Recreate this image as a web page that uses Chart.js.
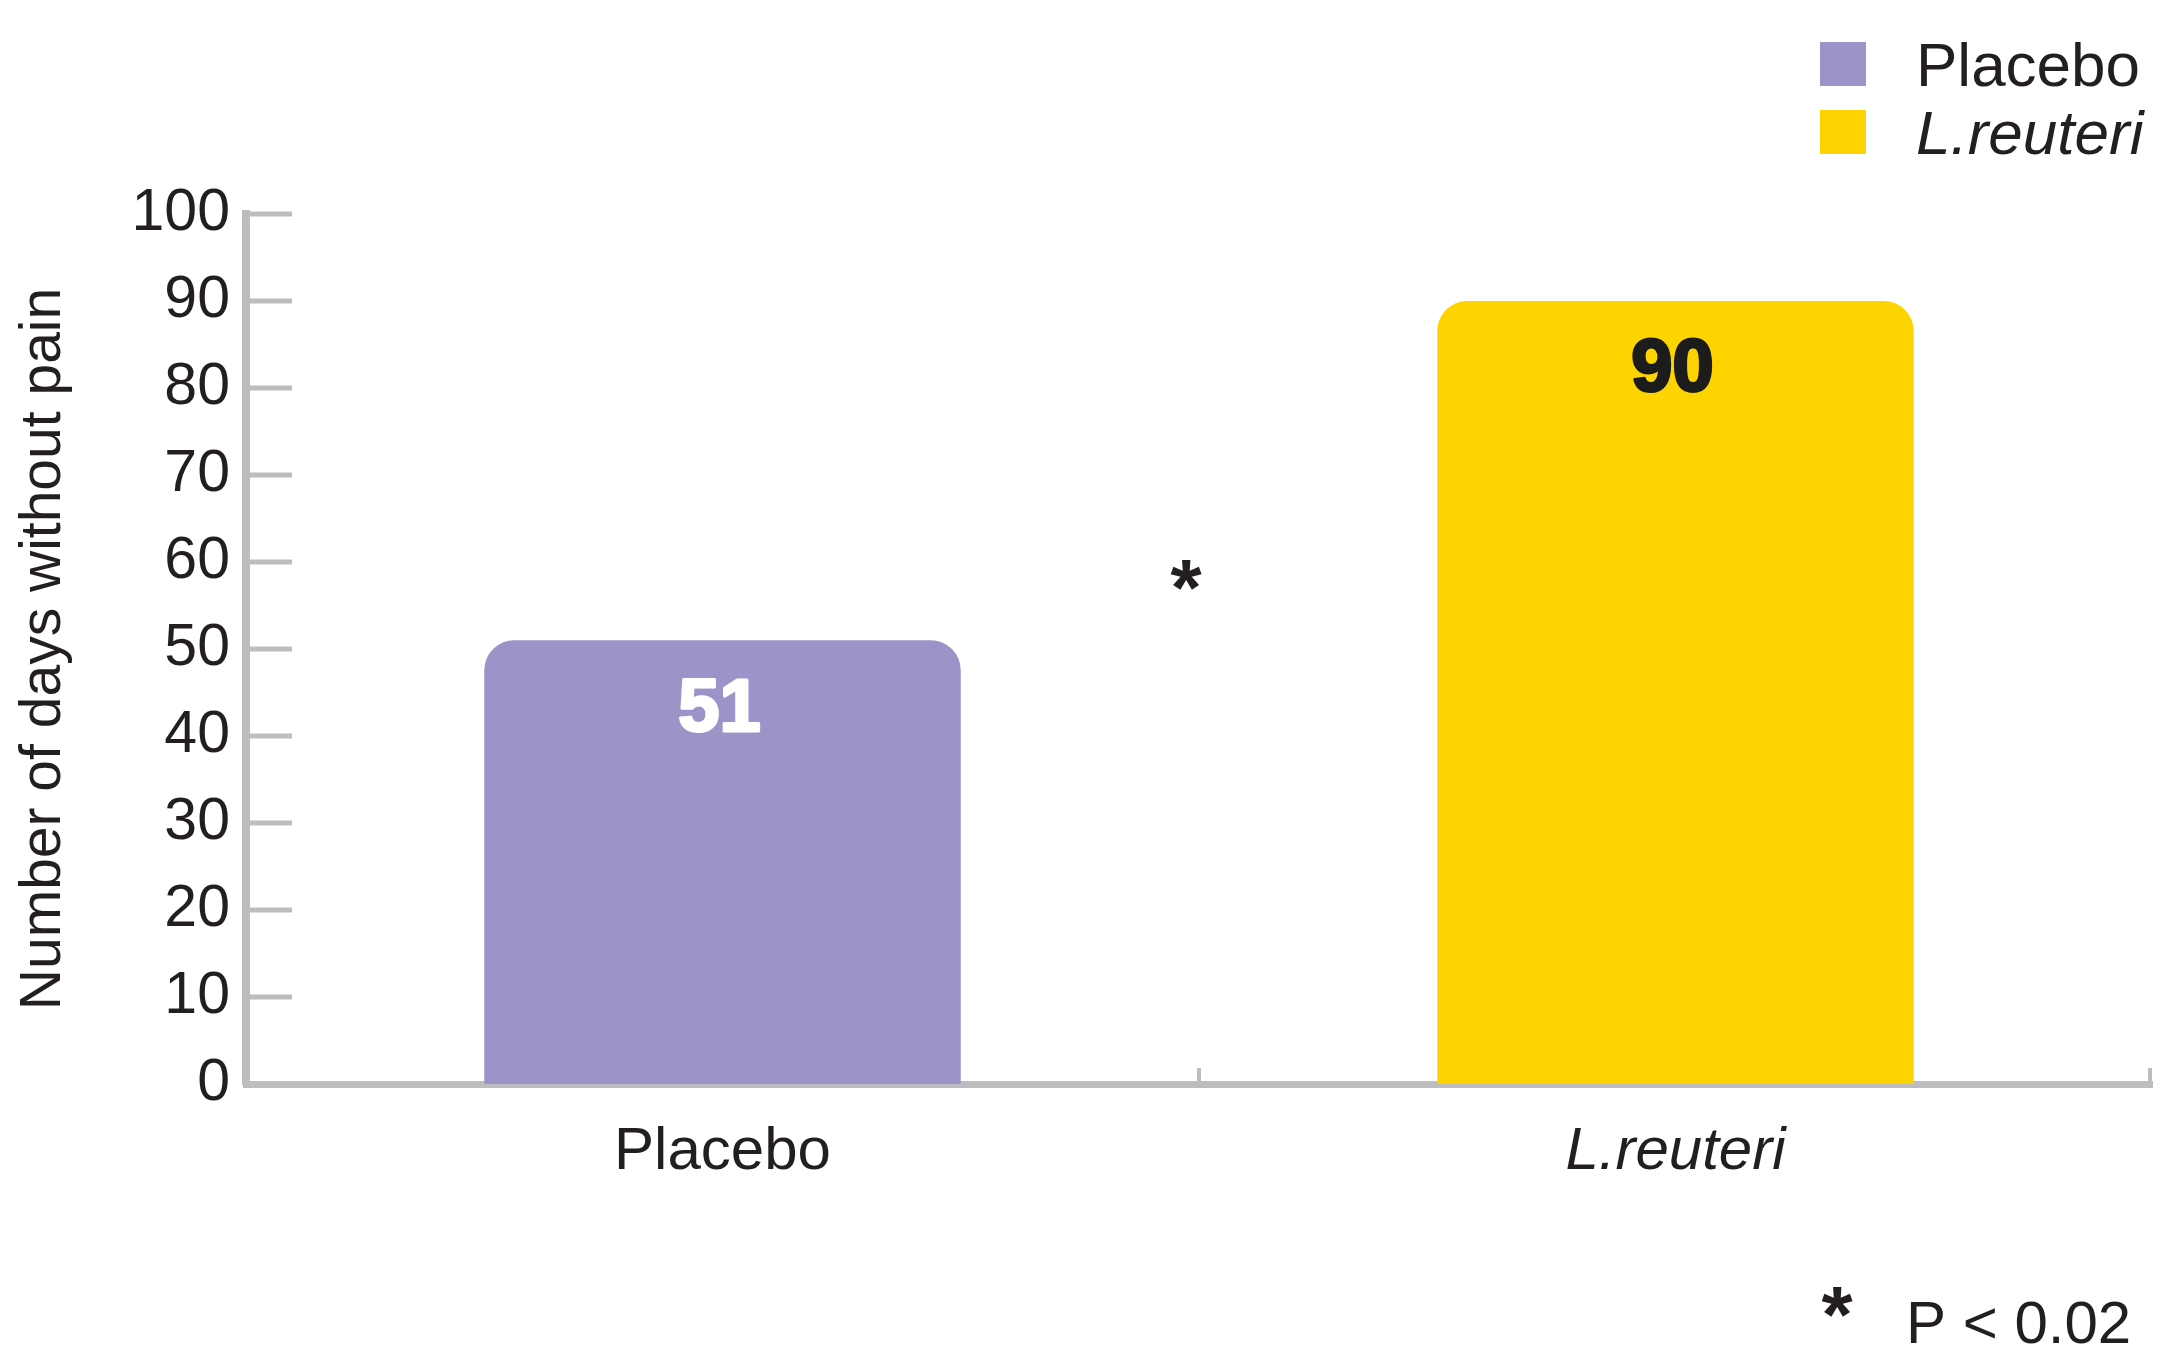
<!DOCTYPE html>
<html>

<head>
    <meta charset="UTF-8">
    <title>Number of days without pain</title>
    <script src="https://cdn.jsdelivr.net/npm/chart.js@4.4.1/dist/chart.umd.min.js"></script>
    <style>
        html, body { margin: 0; padding: 0; background: #fff; }
        #wrap { position: relative; width: 2162px; height: 1353px; }
        #legend {
            position: absolute; left: 1820px; top: 30px;
            font-family: "Liberation Sans", Arial, sans-serif; font-size: 62px; color: #231f20;
        }
        .item { display: flex; align-items: center; height: 68px; }
        .box { width: 46px; height: 44px; margin-right: 50px; }
    </style>
</head>

<body>
    <div id="wrap">
        <canvas id="bar-chart" width="2162" height="1353"></canvas>
        <div id="legend"></div>
    </div>
</body>

<script>
    var categories = ['Placebo', 'L.reuteri'];
    var italicLabels = [false, true];
    var daysWithoutPain = [51, 90];
    var barColors = ['#9b94c8', '#fdd400'];
    var valueColors = ['#ffffff', '#1c1c1c'];
    var axisTitle = 'Number of days without pain';
    var starLevel = 59;          // height of the significance mark, in days
    var footnote = 'P < 0.02';

    var FONT = '"Liberation Sans", Arial, sans-serif';
    var TEXT = '#231f20';
    var AXIS = '#bdbdc0';

    // legend (HTML so that L.reuteri can be italic)
    var legend = document.getElementById('legend');
    categories.forEach(function (c, i) {
        var row = document.createElement('div');
        row.className = 'item';
        row.innerHTML = '<div class="box" style="background:' + barColors[i] + '"></div>' +
            '<span style="font-style:' + (italicLabels[i] ? 'italic' : 'normal') + '">' + c + '</span>';
        legend.appendChild(row);
    });

    var extras = {
        id: 'extras',
        afterDraw: function (chart) {
            var ctx = chart.ctx;
            var x = chart.scales.x, y = chart.scales.y;
            ctx.save();

            // inward ticks on the y axis
            ctx.strokeStyle = AXIS;
            ctx.lineWidth = 5;
            y.ticks.forEach(function (t) {
                if (t.value === 0) return;
                var py = y.getPixelForValue(t.value);
                ctx.beginPath();
                ctx.moveTo(y.right, py);
                ctx.lineTo(y.right + 46, py);
                ctx.stroke();
            });

            // category boundary ticks on the x axis
            var mid = (x.getPixelForValue(0) + x.getPixelForValue(1)) / 2;
            ctx.lineWidth = 4;
            [mid, x.right - 2].forEach(function (px) {
                ctx.beginPath();
                ctx.moveTo(px, x.top);
                ctx.lineTo(px, x.top - 16);
                ctx.stroke();
            });

            // values inside the bars
            var meta = chart.getDatasetMeta(0);
            ctx.font = 'bold 74px ' + FONT;
            ctx.textAlign = 'center';
            ctx.textBaseline = 'middle';
            ctx.lineJoin = 'round';
            meta.data.forEach(function (bar, i) {
                ctx.fillStyle = valueColors[i];
                ctx.strokeStyle = valueColors[i];
                ctx.lineWidth = 3;
                ctx.strokeText(daysWithoutPain[i], bar.x - 3, bar.y + 70);
                ctx.fillText(daysWithoutPain[i], bar.x - 3, bar.y + 70);
            });

            // significance mark between bars
            ctx.fillStyle = TEXT;
            ctx.font = 'bold 80px ' + FONT;
            ctx.textBaseline = 'alphabetic';
            ctx.fillText('*', mid - 13, y.getPixelForValue(starLevel) + 44);

            // footnote
            ctx.fillText('*', 1837, 1342);
            ctx.textAlign = 'left';
            ctx.font = '60px ' + FONT;
            ctx.fillText(footnote, 1906, 1343);

            ctx.restore();
        }
    };

    var chart = new Chart(document.getElementById('bar-chart'), {
        type: 'bar',
        data: {
            labels: categories,
            datasets: [{
                data: daysWithoutPain,
                backgroundColor: barColors,
                borderRadius: 30,
                barPercentage: 0.5,
                categoryPercentage: 1
            }]
        },
        options: {
            responsive: false,
            animation: false,
            layout: { padding: { top: 214, right: 10, left: 0, bottom: 0 } },
            plugins: {
                legend: { display: false },
                tooltip: { enabled: false }
            },
            scales: {
                x: {
                    z: 1,
                    grid: { display: false },
                    border: { color: AXIS, width: 7 },
                    ticks: {
                        color: TEXT,
                        padding: 24,
                        font: function (c) {
                            return { family: FONT, size: 60, style: italicLabels[c.index] ? 'italic' : 'normal' };
                        }
                    },
                    afterFit: function (s) { s.height = 269; }
                },
                y: {
                    min: 0,
                    max: 100,
                    grid: { display: false },
                    border: { color: AXIS, width: 8 },
                    ticks: {
                        stepSize: 10,
                        color: TEXT,
                        padding: 8,
                        font: { family: FONT, size: 59 }
                    },
                    title: {
                        display: true,
                        text: axisTitle,
                        color: TEXT,
                        font: { family: FONT, size: 57 },
                        padding: { top: 10, bottom: 0 }
                    },
                    afterFit: function (s) { s.width = 246; }
                }
            }
        },
        plugins: [extras]
    });
</script>

</html>
